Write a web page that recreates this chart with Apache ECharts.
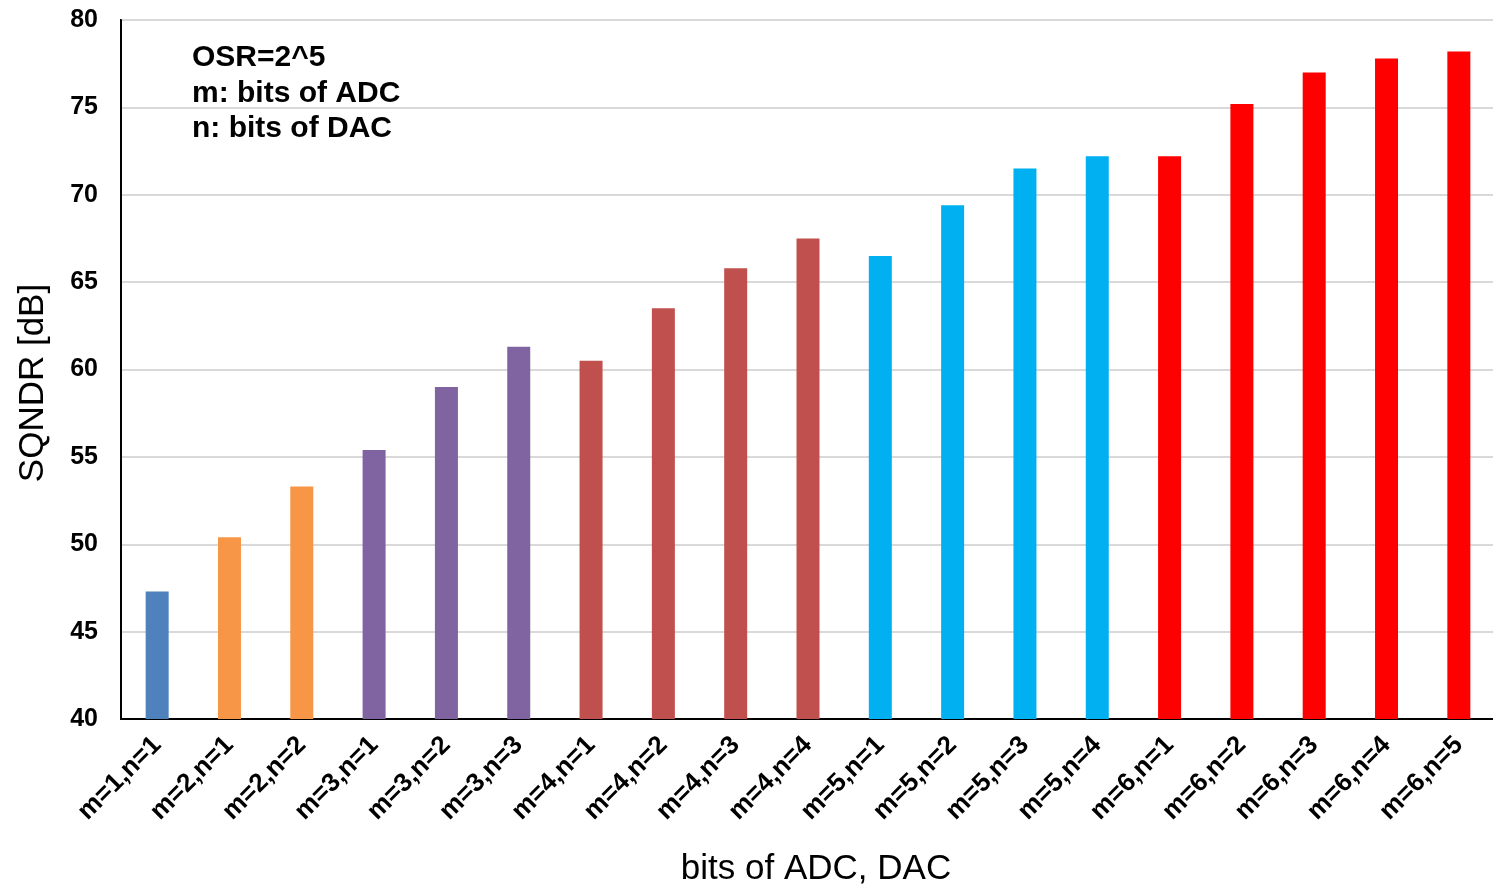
<!DOCTYPE html>
<html>
<head>
<meta charset="utf-8">
<script src="https://cdn.jsdelivr.net/npm/echarts@6/dist/echarts.min.js"></script>
<style>
  html, body { margin: 0; padding: 0; background: #fff; }
  #chart { width: 1493px; height: 888px; }
</style>
</head>
<body>
<div id="chart"></div>
<script>
// Category labels: ADC bits (m) and DAC bits (n)
const categories = [
  'm=1,n=1', 'm=2,n=1', 'm=2,n=2', 'm=3,n=1', 'm=3,n=2', 'm=3,n=3',
  'm=4,n=1', 'm=4,n=2', 'm=4,n=3', 'm=4,n=4', 'm=5,n=1', 'm=5,n=2',
  'm=5,n=3', 'm=5,n=4', 'm=6,n=1', 'm=6,n=2', 'm=6,n=3', 'm=6,n=4', 'm=6,n=5'
];
// SQNDR in dB
const sqndr = [
  47.3, 50.4, 53.3, 55.4, 59.0, 61.3,
  60.5, 63.5, 65.8, 67.5, 66.5, 69.4,
  71.5, 72.2, 72.2, 75.2, 77.0, 77.8, 78.2
];
// ADC bit count for each bar (selects the colour)
const adcBits = [1, 2, 2, 3, 3, 3, 4, 4, 4, 4, 5, 5, 5, 5, 6, 6, 6, 6, 6];
const colorByM = { 1: '#4F81BD', 2: '#F79646', 3: '#8064A2', 4: '#C0504D', 5: '#00B0F0', 6: '#FF0000' };
const yTicks = [40, 45, 50, 55, 60, 65, 70, 75, 80];

const chart = echarts.init(document.getElementById('chart'), null, { renderer: 'canvas' });
const font = 'Liberation Sans, Arial, sans-serif';

chart.setOption({
  animation: false,
  backgroundColor: '#fff',
  grid: {
    left: 121, right: -2, top: 20, bottom: 169,
    outerBoundsMode: 'none', containLabel: false,
    show: true, borderColor: '#000', borderWidth: 2
  },
  graphic: [{
    type: 'text',
    left: 192, top: 40,
    style: {
      text: 'OSR=2^5\nm: bits of ADC\nn: bits of DAC',
      font: 'bold 30px ' + font,
      lineHeight: 35.5,
      fill: '#000'
    }
  }],
  xAxis: {
    type: 'category',
    data: categories,
    name: 'bits of ADC, DAC',
    nameLocation: 'middle',
    nameGap: 133,
    nameTextStyle: { fontFamily: font, fontSize: 35, color: '#000', padding: [0, 0, 0, 16] },
    axisLine: { lineStyle: { color: '#000', width: 2 } },
    axisTick: { show: false },
    axisLabel: {
      rotate: 45, interval: 0, margin: 22,
      fontFamily: font, fontWeight: 'bold', fontSize: 26, color: '#000'
    }
  },
  yAxis: {
    type: 'value',
    min: yTicks[0], max: yTicks[yTicks.length - 1], interval: 5,
    name: 'SQNDR [dB]',
    nameLocation: 'middle',
    nameGap: 70,
    nameTextStyle: { fontFamily: font, fontSize: 35, color: '#000', padding: [0, 27, 0, 0] },
    axisLine: { show: true, lineStyle: { color: '#000', width: 2 } },
    axisTick: { show: false },
    axisLabel: { margin: 23, fontFamily: font, fontWeight: 'bold', fontSize: 25, color: '#000' },
    splitLine: { lineStyle: { color: '#D9D9D9', width: 2 } }
  },
  series: [{
    type: 'bar',
    barWidth: 23,
    data: sqndr.map((v, i) => ({ value: v, itemStyle: { color: colorByM[adcBits[i]] } }))
  }]
});
</script>
</body>
</html>
